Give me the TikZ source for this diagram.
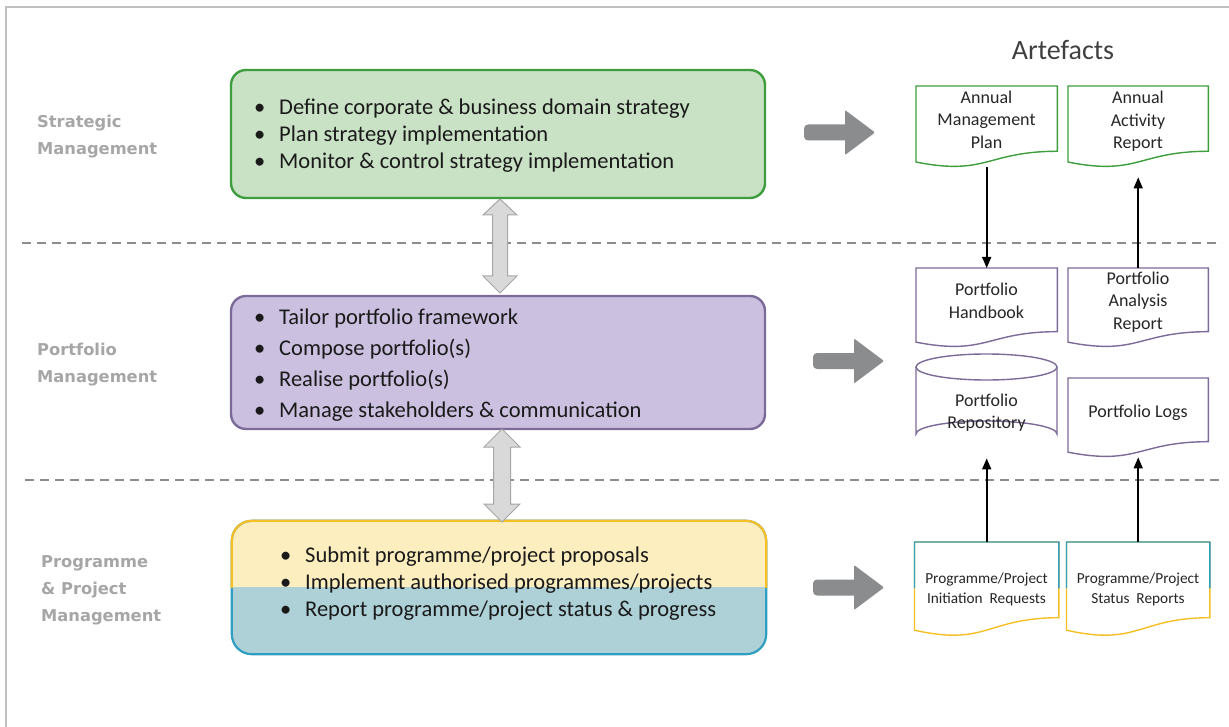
\documentclass[tikz,border=0pt]{standalone}
\usepackage{fontspec}
\setmainfont{Carlito}
\newfontfamily\labelfont{DejaVu Sans}
\usetikzlibrary{calc,arrows.meta}
\definecolor{framegray}{HTML}{C0C0C0}
\definecolor{dashgray}{HTML}{8C8C8C}
\definecolor{bigarrow}{HTML}{8A8C8E}
\definecolor{dblfill}{HTML}{D9D9D9}
\definecolor{dblline}{HTML}{A6A6A6}
\definecolor{greenfill}{HTML}{C9E1C4}
\definecolor{greenline}{HTML}{3E9E3E}
\definecolor{purplefill}{HTML}{CBC0DF}
\definecolor{purpleline}{HTML}{7C6A98}
\definecolor{yellowfill}{HTML}{FDEEBF}
\definecolor{goldline}{HTML}{F6BF26}
\definecolor{tealfill}{HTML}{AED1D8}
\definecolor{tealline}{HTML}{2F9EC1}
\definecolor{labelgray}{HTML}{A6A6A6}
\definecolor{bodytext}{HTML}{1A1A1A}
\definecolor{doctextc}{HTML}{262626}
\definecolor{titlegray}{HTML}{404040}
\newcommand\bitem{\makebox[25pt][l]{•}}
\newcommand\wavedoc[2]{%
  \draw[#2, line width=1.4, fill=white] (#1.north west) -- (#1.north east)
    -- ($(#1.north east)!0.802!(#1.south east)$)
    .. controls ($(#1.north)!0.802!(#1.south)$) and ($(#1.north)!1.1075!(#1.south)$)
    .. ($(#1.north west)!0.934!(#1.south west)$) -- cycle;}
\newcommand\bigarr[2]{%
  \fill[bigarrow, rounded corners=4] (#1,#2-8) rectangle (#1+45,#2+8);
  \fill[bigarrow, rounded corners=1] (#1+41,#2-22.5) -- (#1+71,#2) -- (#1+41,#2+22.5) -- cycle;}
\begin{document}
\begin{tikzpicture}[x=1pt,y=-1pt,
  lab/.style={font=\labelfont\bfseries\fontsize{16.3}{27}\selectfont, text=labelgray, align=left, inner sep=0, anchor=west},
  bul/.style={font=\fontsize{22.5}{27}\selectfont, text=bodytext, align=left, inner sep=0, anchor=west},
  mainbox/.style={rounded corners=15, line width=2.4, minimum width=534, minimum height=128, inner sep=0},
  docbox/.style={draw=none, inner sep=0, anchor=north west},
  doctext/.style={font=\fontsize{18}{22.5}\selectfont, text=doctextc, align=center, inner sep=0},
  smalltext/.style={font=\fontsize{15.3}{20}\selectfont, text=doctextc, align=center, inner sep=0},
  conn/.style={line width=1.6, -{Triangle[length=11,width=9]}},
  dblarrow/.style={fill=dblfill, draw=dblline, line width=1},
  sep/.style={dashgray, line width=1.5, dash pattern=on 9 off 6}]
\useasboundingbox (0,0) rectangle (1229,727);
% frame
\draw[framegray, line width=2] (6,740) -- (6,7.5) -- (1229,7.5);
% separators
\draw[sep] (22,243) -- (1222,243);
\draw[sep] (25,480) -- (1222,480);
% left labels
\node[lab] (l1) at (37,136.5) {Strategic\\Management};
\node[lab] (l2) at (37,364.5) {Portfolio\\Management};
\node[lab] (l3) at (41,590) {Programme\\\& Project\\Management};
% main boxes
\node[mainbox, draw=greenline, fill=greenfill] (strat) at (498,134) {};
\node[bul] (strat-t) at (254,135.5) {\bitem Define corporate \& business domain strategy\\\bitem Plan strategy implementation\\\bitem Monitor \& control strategy implementation};
\node[mainbox, draw=purpleline, fill=purplefill, minimum height=133] (port) at (498,362.5) {};
\node[bul, font=\fontsize{22.5}{31}\selectfont] (port-t) at (254,365.5) {\bitem Tailor portfolio framework\\\bitem Compose portfolio(s)\\\bitem Realise portfolio(s)\\\bitem Manage stakeholders \& communication};
% programme box (two colours)
\node[mainbox, minimum width=532, minimum height=131, rounded corners=20] (prog) at (499,587.5) {};
\begin{scope}
  \clip[rounded corners=20] (prog.north west) rectangle (prog.south east);
  \fill[yellowfill] (prog.north west) rectangle (prog.south east);
  \fill[tealfill] (prog.west |- 0,587) rectangle (prog.south east);
\end{scope}
\draw[tealline, line width=2.2, rounded corners=20] (prog.north west) rectangle (prog.south east);
\begin{scope}
  \clip (200,500) rectangle (800,587);
  \draw[goldline, line width=2.2, rounded corners=20] (prog.north west) rectangle (prog.south east);
\end{scope}
\node[bul] (prog-t) at (280,584) {\bitem Submit programme/project proposals\\\bitem Implement authorised programmes/projects\\\bitem Report programme/project status \& progress};
% double arrows between boxes
\draw[dblarrow] (500,199) -- (517,215) -- (507.5,215) -- (507.5,276) -- (517,276) -- (500,293) -- (483,276) -- (492.5,276) -- (492.5,215) -- (483,215) -- cycle;
\draw[dblarrow] (502,429) -- (520,447) -- (510.5,447) -- (510.5,504) -- (520,504) -- (502,522) -- (484,504) -- (493.5,504) -- (493.5,447) -- (484,447) -- cycle;
% big grey arrows
\bigarr{804}{132.5}
\bigarr{813}{361}
\bigarr{813}{587.5}
% artefacts
\node[font=\fontsize{28}{32}\selectfont, text=titlegray, inner sep=0] (title) at (1063,50) {Artefacts};
\node[docbox, minimum width=141, minimum height=81] (amp) at (916,86) {};
\node[docbox, minimum width=140, minimum height=81] (aar) at (1068,86) {};
\node[docbox, minimum width=141, minimum height=79] (hb) at (916,268) {};
\node[docbox, minimum width=140, minimum height=79] (par) at (1068,268) {};
\node[docbox, minimum width=140, minimum height=79] (logs) at (1068,378) {};
\node[docbox, minimum width=141, minimum height=93] (repo) at (916,354) {};
\node[docbox, minimum width=144, minimum height=94] (pir) at (914.5,542) {};
\node[docbox, minimum width=143, minimum height=94] (psr) at (1066.5,542) {};
\wavedoc{amp}{greenline}
\wavedoc{aar}{greenline}
\wavedoc{hb}{purpleline}
\wavedoc{par}{purpleline}
\wavedoc{logs}{purpleline}
\wavedoc{pir}{goldline}
\wavedoc{psr}{goldline}
\draw[tealline, line width=1.4] ($(pir.north west)!0.49!(pir.south west)$) -- (pir.north west) -- (pir.north east) -- ($(pir.north east)!0.49!(pir.south east)$);
\draw[tealline, line width=1.4] ($(psr.north west)!0.49!(psr.south west)$) -- (psr.north west) -- (psr.north east) -- ($(psr.north east)!0.49!(psr.south east)$);
% cylinder
\draw[purpleline, line width=1.4, fill=white] (916,367) -- (916,434) arc[start angle=180, end angle=360, x radius=70.5, y radius=13] -- (1057,367);
\draw[purpleline, line width=1.4] (986.5,367) ellipse [x radius=70.5, y radius=13];
% doc texts
\node[doctext] (amp-t) at (986.5,119.5) {Annual\\Management\\Plan};
\node[doctext] (aar-t) at (1138,121.5) {Annual\\Activity\\Report};
\node[doctext] (hb-t) at (986.5,301) {Portfolio\\Handbook};
\node[doctext] (par-t) at (1138,302) {Portfolio\\Analysis\\Report};
\node[doctext] (repo-t) at (986.5,412.5) {Portfolio\\Repository};
\node[doctext] (logs-t) at (1138,413) {Portfolio Logs};
\node[smalltext] (pir-t) at (986.5,589) {Programme/Project\\Initiation\ \ Requests};
\node[smalltext] (psr-t) at (1138,589) {Programme/Project\\Status\ \ Reports};
% connectors
\draw[conn] (amp) -- (hb);
\draw[conn, shorten >=10] (par) -- (aar);
\draw[conn, shorten >=11] (pir) -- (repo);
\draw[conn] (psr) -- (logs);
\end{tikzpicture}
\end{document}
